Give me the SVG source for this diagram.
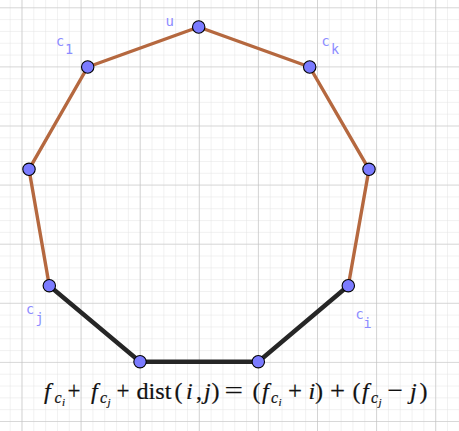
<svg xmlns="http://www.w3.org/2000/svg" width="459" height="431" viewBox="0 0 459 431">
<defs>
<pattern id="minor" x="21.5" y="7.3" width="11.82" height="11.82" patternUnits="userSpaceOnUse">
<path d="M0 0H11.82M0 0V11.82" fill="none" stroke="#e4e4e4" stroke-width="1"/>
</pattern>
<pattern id="major" x="21.5" y="7.3" width="59.1" height="59.1" patternUnits="userSpaceOnUse">
<path d="M0 0H59.1M0 0V59.1" fill="none" stroke="#c0c0c0" stroke-width="1.2"/>
</pattern>
</defs>
<style>
.brown{stroke:#b5683f;stroke-width:3.4;fill:none;stroke-linecap:round}
.dark{stroke:#262626;stroke-width:4.4;fill:none;stroke-linecap:round}
.pt{fill:#7b7bff;stroke:#000;stroke-width:1.1}
.lbl{font-family:"DejaVu Sans Mono","Liberation Mono",monospace;fill:#8c8cff}
.m{font-family:"Liberation Serif","DejaVu Serif",serif;font-size:24px;fill:#111;stroke:#111;stroke-width:0.2}
.mi{font-style:italic}
.sub{font-size:16px}
.sub2{font-size:11px}
.op{font-size:26px}
</style>
<rect width="459" height="431" fill="#fff"/>
<rect width="459" height="431" fill="url(#minor)"/>
<rect width="459" height="431" fill="url(#major)"/>
<g id="connectors">
<line class="brown" x1="198.7" y1="27" x2="87.7" y2="67"/>
<line class="brown" x1="87.7" y1="67" x2="29" y2="169.3"/>
<line class="brown" x1="29" y1="169.3" x2="49.3" y2="285.7"/>
<line class="brown" x1="198.7" y1="27" x2="309.7" y2="67"/>
<line class="brown" x1="309.7" y1="67" x2="369" y2="169.3"/>
<line class="brown" x1="369" y1="169.3" x2="348.3" y2="285.7"/>
<line class="dark" x1="49.3" y1="285.7" x2="140" y2="361.7"/>
<line class="dark" x1="140" y1="361.7" x2="258.3" y2="361.7"/>
<line class="dark" x1="258.3" y1="361.7" x2="348.3" y2="285.7"/>
</g>
<g id="node-u"><circle class="pt" cx="198.7" cy="27" r="6.2"/><text class="lbl" x="165.5" y="25.5" font-size="14">u</text></g>
<g id="node-c1"><circle class="pt" cx="87.7" cy="67" r="6.2"/><text class="lbl" x="56" y="45.5" font-size="13.5">c</text><text class="lbl" x="65" y="53.5" font-size="13.5">1</text></g>
<g id="node-cj"><circle class="pt" cx="49.3" cy="285.7" r="6.2"/><text class="lbl" x="26" y="314" font-size="13.5">c</text><text class="lbl" x="35.5" y="323" font-size="13.5">j</text></g>
<g id="node-ci"><circle class="pt" cx="348.3" cy="285.7" r="6.2"/><text class="lbl" x="355.5" y="318.5" font-size="13.5">c</text><text class="lbl" x="363.5" y="327.5" font-size="13.5">i</text></g>
<g id="node-ck"><circle class="pt" cx="309.7" cy="67" r="6.2"/><text class="lbl" x="321.5" y="45.5" font-size="13.5">c</text><text class="lbl" x="331" y="53.5" font-size="13.5">k</text></g>
<g id="node-left"><circle class="pt" cx="29" cy="169.3" r="6.2"/></g>
<g id="node-bl"><circle class="pt" cx="140" cy="361.7" r="6.2"/></g>
<g id="node-br"><circle class="pt" cx="258.3" cy="361.7" r="6.2"/></g>
<g id="node-right"><circle class="pt" cx="369" cy="169.3" r="6.2"/></g>
<g id="formula" class="m">
<text x="44" y="399" class="mi">f</text>
<text x="54.5" y="403" class="mi sub">c</text><text x="62" y="405.5" class="mi sub2">i</text>
<text x="67.5" y="399" class="op" textLength="13" lengthAdjust="spacingAndGlyphs">+</text>
<text x="91" y="399" class="mi">f</text>
<text x="100" y="403" class="mi sub">c</text><text x="107.5" y="405.5" class="mi sub2">j</text>
<text x="116.5" y="399" class="op" textLength="13" lengthAdjust="spacingAndGlyphs">+</text>
<text x="136.5" y="399" textLength="35" lengthAdjust="spacingAndGlyphs">dist</text>
<text x="174.5" y="399">(</text>
<text x="186" y="399" class="mi">i</text>
<text x="196" y="399">,</text>
<text x="204" y="399" class="mi">j</text>
<text x="211.5" y="399">)</text>
<text x="224.5" y="399" class="op" textLength="18.5" lengthAdjust="spacingAndGlyphs">=</text>
<text x="252.5" y="399">(</text>
<text x="262" y="399" class="mi">f</text>
<text x="271" y="403" class="mi sub">c</text><text x="278.5" y="405.5" class="mi sub2">i</text>
<text x="288" y="399" class="op" textLength="14" lengthAdjust="spacingAndGlyphs">+</text>
<text x="308.5" y="399" class="mi">i</text>
<text x="315" y="399">)</text>
<text x="330" y="399" class="op" textLength="15" lengthAdjust="spacingAndGlyphs">+</text>
<text x="352.5" y="399">(</text>
<text x="362" y="399" class="mi">f</text>
<text x="371" y="403" class="mi sub">c</text><text x="378.5" y="405.5" class="mi sub2">j</text>
<text x="387.5" y="399" class="op" textLength="15.5" lengthAdjust="spacingAndGlyphs">−</text>
<text x="410" y="399" class="mi">j</text>
<text x="419.5" y="399">)</text>
</g>
</svg>
